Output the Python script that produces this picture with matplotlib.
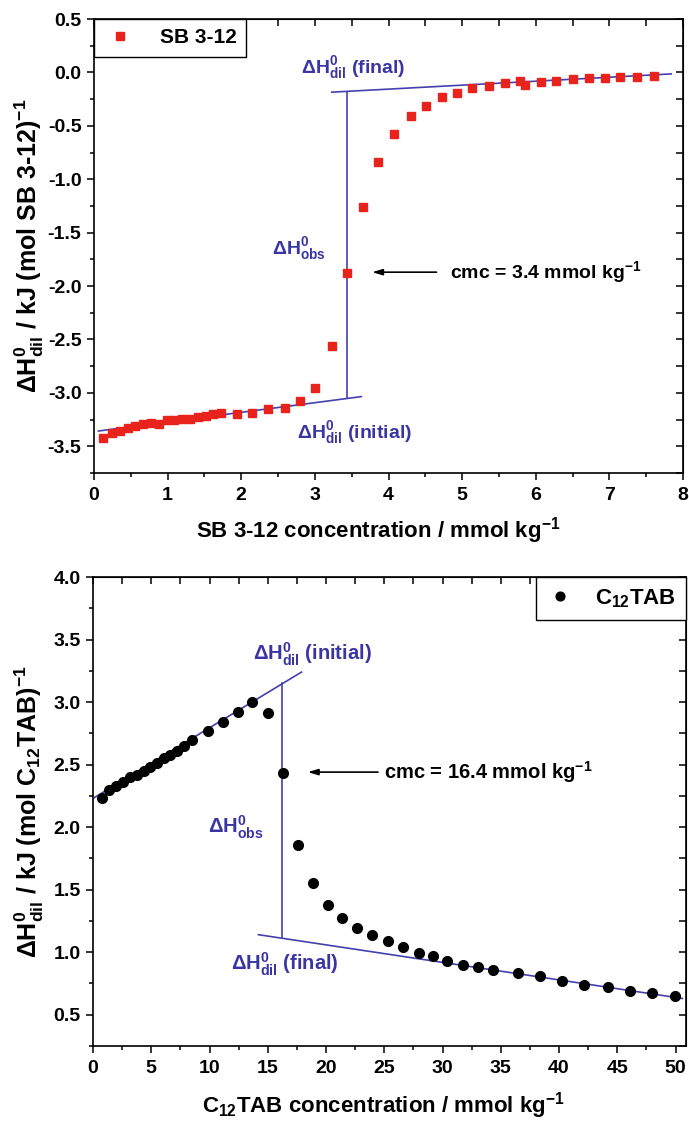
import matplotlib
matplotlib.use("Agg")
import matplotlib.pyplot as plt
from matplotlib.ticker import MultipleLocator

plt.rcParams["font.family"] = ["Liberation Sans", "DejaVu Sans"]
plt.rcParams["font.weight"] = "bold"
plt.rcParams["axes.labelweight"] = "bold"
plt.rcParams["mathtext.default"] = "regular"
plt.rcParams["axes.unicode_minus"] = False

# ------------------------------------------------------------
# dados
# ------------------------------------------------------------
sb_x = [0.12, 0.25, 0.35, 0.46, 0.56, 0.67, 0.78, 0.88, 0.99, 1.09, 1.20, 1.30,
        1.41, 1.52, 1.62, 1.73, 1.94, 2.15, 2.37, 2.59, 2.80, 3.00, 3.23, 3.44,
        3.65, 3.86, 4.08, 4.30, 4.51, 4.72, 4.93, 5.14, 5.36, 5.58, 5.78, 5.85,
        6.07, 6.28, 6.51, 6.72, 6.94, 7.15, 7.38, 7.60]
sb_y = [-3.42, -3.38, -3.36, -3.33, -3.31, -3.29, -3.28, -3.29, -3.25, -3.25, -3.24, -3.24,
        -3.23, -3.22, -3.20, -3.19, -3.20, -3.19, -3.15, -3.14, -3.08, -2.95, -2.56, -1.88,
        -1.26, -0.84, -0.58, -0.41, -0.31, -0.23, -0.19, -0.145, -0.126, -0.10, -0.077, -0.12,
        -0.086, -0.077, -0.06, -0.054, -0.049, -0.045, -0.04, -0.033]

# retas de extrapolação (SB 3-12)
sb_ini_x = [0.06, 3.63]
sb_ini_y = [-3.357, -3.035]
sb_fin_x = [3.23, 7.84]
sb_fin_y = [-0.185, -0.014]
sb_cmc = 3.43
sb_vert_y = [-3.05, -0.18]

c12_x = [0.78, 1.35, 1.95, 2.55, 3.15, 3.75, 4.35, 4.90, 5.50, 6.10, 6.65, 7.25,
         7.85, 8.48, 9.83, 11.17, 12.41, 13.66, 14.99, 16.27, 17.61, 18.89, 20.16,
         21.40, 22.68, 23.98, 25.33, 26.60, 27.94, 29.20, 30.42, 31.77, 33.04, 34.32,
         36.47, 38.35, 40.25, 42.16, 44.17, 46.06, 47.97, 49.98]
c12_y = [2.23, 2.30, 2.33, 2.36, 2.40, 2.42, 2.45, 2.48, 2.51, 2.55, 2.58, 2.61,
         2.65, 2.70, 2.77, 2.84, 2.92, 3.00, 2.91, 2.43, 1.86, 1.55, 1.38,
         1.27, 1.19, 1.14, 1.09, 1.04, 0.99, 0.97, 0.93, 0.90, 0.88, 0.86,
         0.83, 0.81, 0.77, 0.74, 0.72, 0.69, 0.67, 0.65]

c12_ini_x = [0.0, 17.9]
c12_ini_y = [2.23, 3.24]
c12_fin_x = [14.2, 50.6]
c12_fin_y = [1.14, 0.63]
c12_cmc = 16.2
c12_vert_y = [1.12, 3.15]

AZUL = "#3b35a3"
LINHA = "#4540b0"
W, H = 689, 1127
TICK_FS = 14
XLABEL_FS = 16
YLABEL_FS = 18
NOTE_FS = 14

fig = plt.figure(figsize=(W / 100, H / 100), dpi=100)
ax1 = fig.add_axes([94 / W, 1 - 473 / H, (683 - 94) / W, (473 - 19) / H])
ax2 = fig.add_axes([93 / W, 1 - 1046 / H, (686 - 93) / W, (1046 - 577) / H])


def estilo(ax):
    for s in ax.spines.values():
        s.set_linewidth(1.2)
    ax.tick_params(which="both", direction="out", width=1.1, labelsize=TICK_FS,
                   top=False, right=False)
    ax.tick_params(axis="x", pad=5)
    ax.tick_params(axis="y", pad=4)
    ax.tick_params(which="major", length=5)
    ax.tick_params(which="minor", length=3)
    # ticks espelhados, para dentro
    sec_x = ax.secondary_xaxis("top")
    sec_y = ax.secondary_yaxis("right")
    for sec in (sec_x, sec_y):
        sec.tick_params(which="both", direction="in", width=1.1)
        sec.tick_params(which="major", length=5)
        sec.tick_params(which="minor", length=3)
    sec_x.set_xticklabels([])
    sec_y.set_yticklabels([])
    return sec_x, sec_y


# ---------------- painel superior: SB 3-12 ----------------
ax1.plot(sb_ini_x, sb_ini_y, color=LINHA, lw=1.2)
ax1.plot(sb_fin_x, sb_fin_y, color=LINHA, lw=1.2)
ax1.plot([sb_cmc, sb_cmc], sb_vert_y, color=LINHA, lw=1.2)
ax1.plot(sb_x, sb_y, linestyle="none", marker="s", ms=6, color="#e8231c",
         mec="#e8231c", label="SB 3-12", zorder=3)
ax1.set_xlim(0, 8)
ax1.set_ylim(-3.75, 0.5)
ax1.xaxis.set_major_locator(MultipleLocator(1))
ax1.xaxis.set_minor_locator(MultipleLocator(0.5))
ax1.yaxis.set_major_locator(MultipleLocator(0.5))
ax1.yaxis.set_minor_locator(MultipleLocator(0.25))
sx, sy = estilo(ax1)
sx.xaxis.set_major_locator(MultipleLocator(0.5))
sy.yaxis.set_major_locator(MultipleLocator(0.25))
ax1.set_xlabel("SB 3-12 concentration / mmol kg$^{-1}$", fontsize=XLABEL_FS)
ax1.set_ylabel(r"$\Delta H^{0}_{dil}$ / kJ (mol SB 3-12)$^{-1}$", fontsize=YLABEL_FS)
ax1.xaxis.set_label_coords(0.483, -0.092)
ax1.yaxis.set_label_coords(-0.082, 0.5)

ax1.text(3.52, 0.05, r"$\Delta H^{0}_{dil}$ (final)", color=AZUL, fontsize=NOTE_FS,
         ha="center", va="center")
ax1.text(2.79, -1.65, r"$\Delta H^{0}_{obs}$", color=AZUL, fontsize=NOTE_FS,
         ha="center", va="center")
ax1.text(3.54, -3.37, r"$\Delta H^{0}_{dil}$ (initial)", color=AZUL, fontsize=NOTE_FS,
         ha="center", va="center")
ax1.text(4.84, -1.87, "cmc = 3.4 mmol kg$^{-1}$", color="black", fontsize=NOTE_FS,
         ha="left", va="center")
ax1.annotate("", xy=(3.74, -1.87), xytext=(4.69, -1.87),
             arrowprops=dict(arrowstyle="-|>,head_length=0.6,head_width=0.18",
                             color="black", lw=1.2))

leg1 = ax1.legend(loc="upper left", bbox_to_anchor=(0, 1), borderaxespad=0,
                  fancybox=False, framealpha=1, edgecolor="black",
                  prop={"size": 15, "weight": "bold"},
                  handlelength=1.6, handletextpad=1.1, borderpad=0.45, markerscale=0.9)
leg1.get_frame().set_linewidth(1.0)

# ---------------- painel inferior: C12TAB ----------------
ax2.plot(c12_ini_x, c12_ini_y, color=LINHA, lw=1.2)
ax2.plot(c12_fin_x, c12_fin_y, color=LINHA, lw=1.2)
ax2.plot([c12_cmc, c12_cmc], c12_vert_y, color=LINHA, lw=1.2)
ax2.plot(c12_x, c12_y, linestyle="none", marker="o", ms=7, color="black",
         label="C$_{12}$TAB", zorder=3)
ax2.set_xlim(0, 50.9)
ax2.set_ylim(0.25, 4.0)
ax2.xaxis.set_major_locator(MultipleLocator(5))
ax2.xaxis.set_minor_locator(MultipleLocator(2.5))
ax2.yaxis.set_major_locator(MultipleLocator(0.5))
ax2.yaxis.set_minor_locator(MultipleLocator(0.25))
sx, sy = estilo(ax2)
sx.xaxis.set_major_locator(MultipleLocator(2.5))
sy.yaxis.set_major_locator(MultipleLocator(0.25))
ax2.set_xlabel("C$_{12}$TAB concentration / mmol kg$^{-1}$", fontsize=XLABEL_FS)
ax2.set_ylabel(r"$\Delta H^{0}_{dil}$ / kJ (mol C$_{12}$TAB)$^{-1}$", fontsize=YLABEL_FS)
ax2.xaxis.set_label_coords(0.49, -0.094)
ax2.yaxis.set_label_coords(-0.08, 0.5)

ax2.text(18.86, 3.38, r"$\Delta H^{0}_{dil}$ (initial)", color=AZUL, fontsize=NOTE_FS + 0.5,
         ha="center", va="center")
ax2.text(12.24, 2.0, r"$\Delta H^{0}_{obs}$", color=AZUL, fontsize=NOTE_FS + 0.5,
         ha="center", va="center")
ax2.text(16.5, 0.9, r"$\Delta H^{0}_{dil}$ (final)", color=AZUL, fontsize=NOTE_FS + 0.5,
         ha="center", va="center")
ax2.text(25.0, 2.44, "cmc = 16.4 mmol kg$^{-1}$", color="black", fontsize=NOTE_FS + 0.5,
         ha="left", va="center")
ax2.annotate("", xy=(18.2, 2.44), xytext=(24.7, 2.44),
             arrowprops=dict(arrowstyle="-|>,head_length=0.6,head_width=0.18",
                             color="black", lw=1.2))

leg2 = ax2.legend(loc="upper right", bbox_to_anchor=(1, 1), borderaxespad=0,
                  fancybox=False, framealpha=1, edgecolor="black",
                  prop={"size": 16, "weight": "bold"},
                  handlelength=1.2, handletextpad=1.0, borderpad=0.45, markerscale=0.9)
leg2.get_frame().set_linewidth(1.0)

fig.savefig("out.png", dpi=100)
